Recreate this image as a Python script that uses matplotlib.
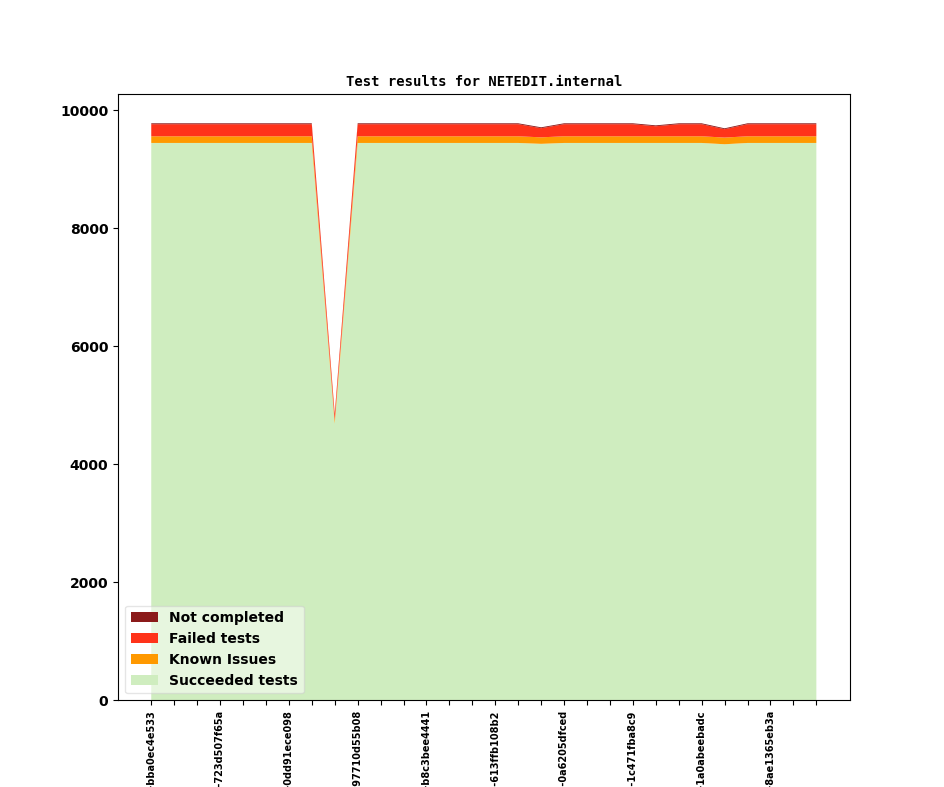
import matplotlib
matplotlib.use("Agg")
import matplotlib.pyplot as plt
import numpy as np

# ---- data ----
succeeded = [9447, 9447, 9447, 9447, 9447, 9447, 9447, 9447, 4690, 9447,
             9447, 9447, 9447, 9447, 9447, 9447, 9447, 9432, 9447, 9447,
             9447, 9447, 9447, 9447, 9447, 9425, 9447, 9447, 9447, 9447]
known = [113, 113, 113, 113, 113, 113, 113, 113, 60, 113,
         113, 113, 113, 113, 113, 113, 113, 110, 113, 113,
         113, 113, 113, 113, 113, 113, 113, 113, 113, 113]
failed = [205, 205, 205, 205, 205, 205, 205, 205, 100, 205,
          205, 205, 205, 205, 205, 205, 205, 155, 205, 205,
          205, 205, 170, 205, 205, 142, 205, 205, 205, 205]
not_completed = [15, 15, 15, 15, 15, 15, 15, 15, 10, 15,
                 15, 15, 15, 15, 15, 15, 15, 15, 15, 15,
                 15, 15, 15, 15, 15, 15, 15, 15, 15, 15]
tick_positions = [0, 3, 6, 9, 12, 15, 18, 21, 24, 27]
tick_labels = ["v1_19_0+0101-bba0ec4e533", "v1_19_0+0128-723d507f65a",
               "v1_19_0+0150-0dd91ece098", "v1_19_0+0177-97710d55b08",
               "v1_19_0+0203-b8c3bee4441", "v1_19_0+0231-613ffb108b2",
               "v1_19_0+0258-0a6205dfced", "v1_19_0+0284-1c471fba8c9",
               "v1_19_0+0311-1a0abeebadc", "v1_19_0+0339-8ae1365eb3a"]
series_names = ["Succeeded tests", "Known Issues", "Failed tests", "Not completed"]
colors = ["#cfedbf", "#ff9900", "#ff331a", "#8b1a1a"]

x = np.arange(len(succeeded))

fig = plt.figure(figsize=(9.44, 7.87), dpi=100)
ax = fig.add_subplot(111)
ax.stackplot(x, succeeded, known, failed, not_completed,
             labels=series_names, colors=colors)

ax.set_xticks(x)
labels_all = [""] * len(x)
for p, l in zip(tick_positions, tick_labels):
    labels_all[p] = l
ax.set_xticklabels(labels_all, rotation=90, fontsize=7, fontweight="bold")
for lab in ax.get_yticklabels():
    lab.set_fontweight("bold")
ax.tick_params(axis="y", labelsize=10)

ax.set_title("Test results for NETEDIT.internal", fontfamily="monospace",
             fontweight="bold", fontsize=10)

handles, labels = ax.get_legend_handles_labels()
ax.legend(handles[::-1], labels[::-1], loc="lower left", framealpha=0.5,
          prop={"weight": "bold", "size": 10})

fig.savefig("out.png", dpi=100)
